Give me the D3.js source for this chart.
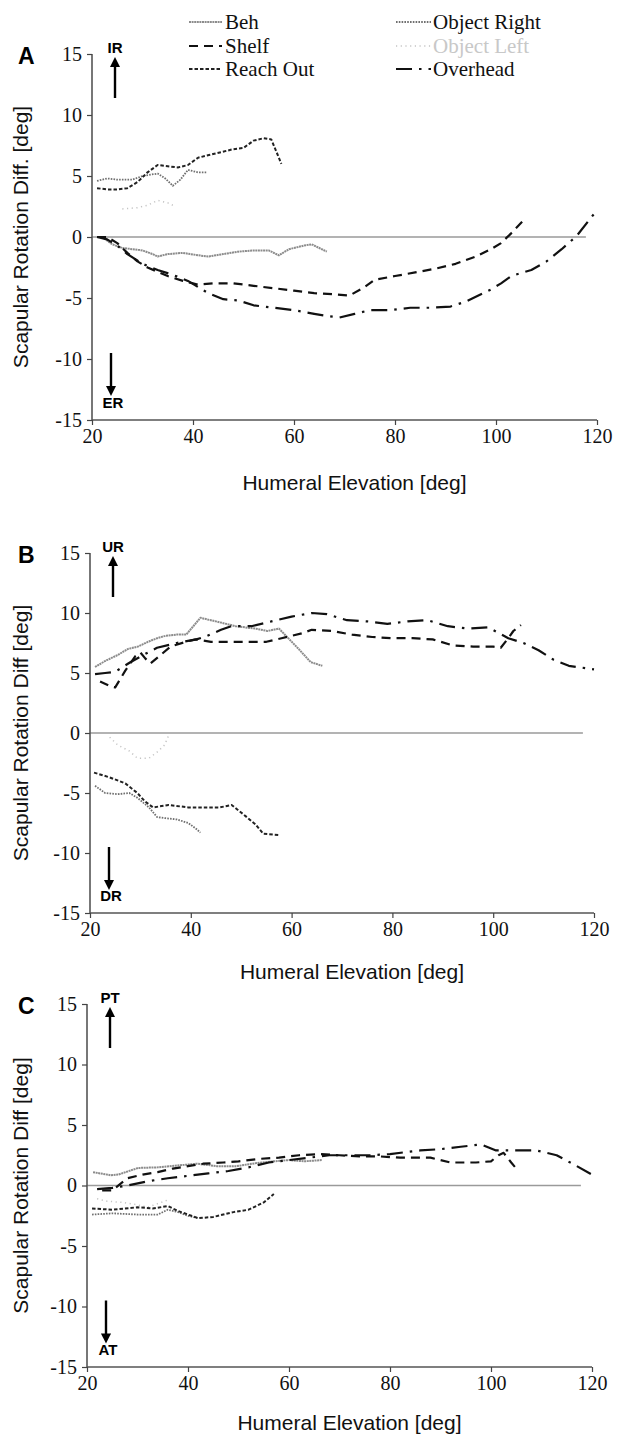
<!DOCTYPE html>
<html>
<head>
<meta charset="utf-8">
<script src="https://cdn.jsdelivr.net/npm/d3@7"></script>
<style>
  html, body { margin: 0; padding: 0; background: #fff; }
  svg { display: block; }
</style>
</head>
<body>
<svg id="chart" width="617" height="1436"></svg>
<script>
// Axis ticks shared by the three panels
const xTicks = [20, 40, 60, 80, 100, 120];
const yTicks = [-15, -10, -5, 0, 5, 10, 15];

// Series names (legend order: left column then right column)
const seriesNames = ["Beh", "Shelf", "Reach Out", "Object Right", "Object Left", "Overhead"];

// Direction labels (positive, negative) for each panel
const labelsA = ["IR", "ER"];
const labelsB = ["UR", "DR"];
const labelsC = ["PT", "AT"];

// ---- Panel A values [humeral elevation, rotation difference] ----
const aBeh = [[22,0.0],[24,-0.6],[26,-0.9],[28,-1.0],[30,-1.1],[32,-1.4],[33,-1.6],[35,-1.4],[38,-1.3],[41,-1.5],[43,-1.6],[46,-1.4],[49,-1.2],[52,-1.1],[55,-1.1],[57,-1.5],[59,-1.0],[62,-0.7],[63.5,-0.6],[65,-0.9],[66.5,-1.2]];
const aObjRight = [[21,4.6],[23,4.8],[25,4.7],[28,4.7],[30,5.0],[33,5.2],[34.5,4.8],[36,4.2],[37.5,4.7],[39,5.5],[41,5.3],[42.7,5.3]];
const aObjLeft = [[26,2.3],[29,2.4],[31,2.6],[33,3.0],[35,2.8],[36,2.6]];
const aReach = [[21,4.0],[23,3.9],[25,3.9],[27,4.0],[29,4.5],[31,5.3],[33,5.9],[35,5.8],[37,5.7],[39,5.9],[41,6.5],[44,6.8],[48,7.2],[50,7.3],[52,7.9],[54,8.1],[55.5,8.0],[56.5,7.0],[57.5,6.0]];
const aShelf = [[21,0],[23,0],[25,-0.5],[27,-1.3],[29,-2.0],[31,-2.5],[35,-3.2],[38,-3.6],[41,-3.9],[44,-3.8],[48,-3.8],[52,-4.0],[56,-4.2],[60,-4.4],[64,-4.6],[68,-4.7],[71,-4.8],[74,-4.1],[76,-3.5],[80,-3.2],[84,-2.9],[88,-2.6],[92,-2.2],[96,-1.6],[99,-1.0],[101,-0.5],[103,0.3],[105.5,1.4]];
const aOverhead = [[21,0],[23,-0.2],[25,-0.7],[27,-1.4],[30,-2.2],[33,-2.7],[36,-3.1],[39,-3.6],[41,-4.1],[43,-4.6],[46,-5.1],[49,-5.2],[52,-5.6],[56,-5.8],[60,-6.0],[64,-6.3],[67,-6.5],[69,-6.6],[72,-6.3],[75,-6.0],[79,-6.0],[83,-5.8],[87,-5.8],[91,-5.7],[94,-5.3],[96,-4.9],[99,-4.3],[101,-3.8],[103,-3.2],[107,-2.7],[110,-2.0],[113,-1.0],[116,0.1],[120,2.2]];

// ---- Panel B values ----
const bBeh = [[21,5.5],[23,6.0],[25.5,6.5],[27.5,7.0],[29.5,7.2],[31.5,7.6],[33.3,7.9],[35,8.1],[37.2,8.2],[39.1,8.2],[41.9,9.6],[45,9.3],[48.9,8.9],[52.8,8.7],[55.2,8.5],[57.5,8.7],[61.4,7.0],[63.8,5.9],[66.1,5.6]];
const bObjRight = [[21,-4.4],[23,-5.0],[25.5,-5.1],[27.8,-5.0],[29.4,-5.4],[31.7,-6.2],[33.3,-7.0],[35,-7.1],[37.2,-7.2],[39.5,-7.5],[41.1,-8.0],[41.9,-8.3]];
const bObjLeft = [[23.9,-0.35],[25.5,-1.0],[27.8,-1.5],[29.4,-2.1],[31.7,-2.1],[33.3,-1.6],[34.8,-1.0],[35.6,-0.2]];
const bReach = [[20.8,-3.3],[23.9,-3.7],[27,-4.2],[29.4,-5.0],[30.9,-5.7],[32.5,-6.2],[35.6,-6.0],[39.5,-6.2],[43.4,-6.2],[45.8,-6.2],[48.1,-6.0],[50.5,-6.8],[52.8,-7.6],[54.4,-8.4],[57.5,-8.5]];
const bShelf = [[22,4.3],[24,3.9],[25,3.8],[27,5.2],[29,6.4],[30,6.7],[31,6.2],[32,5.8],[34,6.5],[36,7.2],[39,7.6],[41,7.8],[44,7.6],[50,7.6],[55,7.6],[58,7.9],[62,8.3],[64,8.6],[68,8.5],[72,8.2],[76,8.0],[80,7.9],[84,7.9],[88,7.8],[92,7.3],[96,7.2],[100,7.2],[101.5,7.1],[103,7.9],[104,8.5],[105.5,9.0]];
const bOverhead = [[21,4.9],[23,5.0],[25,5.1],[28,5.9],[31,6.6],[33.3,7.1],[37.2,7.5],[41.1,7.8],[42.7,8.0],[46,8.6],[48,8.9],[52,8.9],[56,9.3],[60,9.7],[64,10.0],[67,9.9],[71,9.4],[75,9.3],[79,9.1],[83,9.3],[87,9.4],[91,8.9],[95,8.7],[99,8.8],[103,7.9],[106,7.5],[109,6.9],[112,6.1],[115,5.6],[120,5.3]];

// ---- Panel C values ----
const cBeh = [[21.2,1.1],[24.7,0.85],[26.2,0.9],[30.1,1.45],[34,1.5],[37.9,1.65],[41.8,1.8],[45.7,1.6],[49.6,1.6],[53.5,1.85],[57,2.0],[60,2.1],[63,2.0],[66.5,2.1]];
const cObjRight = [[21,-2.4],[25,-2.3],[30,-2.4],[34,-2.4],[36,-2.0],[38,-2.2],[40,-2.5],[42,-2.7]];
const cObjLeft = [[22,-1.1],[24,-1.3],[27,-1.4],[30,-1.6],[32,-1.8],[34,-1.5],[36,-1.2]];
const cReach = [[21,-1.9],[25,-2.0],[30,-1.8],[33,-1.9],[36,-1.7],[38,-2.1],[40,-2.4],[42,-2.7],[45,-2.6],[49,-2.2],[52,-2.0],[55,-1.4],[57,-0.7]];
const cShelf = [[23,-0.4],[25,-0.4],[28,0.6],[31,0.9],[34,1.1],[37,1.4],[40,1.6],[43,1.8],[47,1.9],[50,2.0],[54,2.2],[58,2.3],[62,2.5],[66,2.6],[70,2.5],[74,2.4],[78,2.4],[82,2.3],[88,2.3],[92,1.9],[97,1.9],[100,2.0],[101.5,2.5],[102.5,2.7],[104,1.9],[105,1.4]];
const cOverhead = [[22,-0.3],[25,-0.2],[28,0.0],[32,0.35],[36,0.6],[40,0.8],[44,1.0],[48,1.2],[52,1.5],[56,1.9],[60,2.1],[64,2.3],[68,2.5],[72,2.5],[76,2.5],[80,2.6],[86,2.9],[90,3.0],[94,3.2],[98,3.4],[101,2.9],[105,2.9],[109,2.9],[113,2.5],[117,1.6],[120,0.9]];

// Stroke style for each series
const styles = {
  "Beh":          { stroke: "#8c8c8c", width: 2.0, dash: "2,0.6" },
  "Shelf":        { stroke: "#111",    width: 2.2, dash: "9,6" },
  "Reach Out":    { stroke: "#222",    width: 2.0, dash: "3.5,2" },
  "Object Right": { stroke: "#707070", width: 1.8, dash: "1.6,1.2" },
  "Object Left":  { stroke: "#c4c4c4", width: 1.5, dash: "1.2,3.5" },
  "Overhead":     { stroke: "#111",    width: 2.2, dash: "16,7,2.5,7" }
};

const panels = [
  { letter: "A", x0: 92, x1: 597, yTop: 54, yBot: 420, title: "Scapular Rotation Diff. [deg]",
    up: labelsA[0], down: labelsA[1], xTitleY: 490,
    series: { "Beh": aBeh, "Object Right": aObjRight, "Object Left": aObjLeft, "Reach Out": aReach, "Shelf": aShelf, "Overhead": aOverhead } },
  { letter: "B", x0: 90, x1: 594, yTop: 553, yBot: 913, title: "Scapular Rotation Diff [deg]",
    up: labelsB[0], down: labelsB[1], xTitleY: 979,
    series: { "Beh": bBeh, "Object Right": bObjRight, "Object Left": bObjLeft, "Reach Out": bReach, "Shelf": bShelf, "Overhead": bOverhead } },
  { letter: "C", x0: 87, x1: 592, yTop: 1004, yBot: 1367, title: "Scapular Rotation Diff [deg]",
    up: labelsC[0], down: labelsC[1], xTitleY: 1430,
    series: { "Beh": cBeh, "Object Right": cObjRight, "Object Left": cObjLeft, "Reach Out": cReach, "Shelf": cShelf, "Overhead": cOverhead } }
];

const svg = d3.select("#chart");
const serif = "'Liberation Serif', 'Times New Roman', serif";
const sans = "'Liberation Sans', Arial, sans-serif";

// Arrow head marker
svg.append("defs").append("marker")
  .attr("id", "arrow").attr("viewBox", "0 0 10 10")
  .attr("refX", 5).attr("refY", 5)
  .attr("markerWidth", 4.2).attr("markerHeight", 5)
  .attr("orient", "auto-start-reverse")
  .append("path").attr("d", "M0,0 L10,5 L0,10 Z").attr("fill", "#000");

// plain hyphen-minus tick labels
const tickFmt = d => String(d);

panels.forEach(p => {
  const x = d3.scaleLinear().domain([20, 120]).range([p.x0, p.x1]);
  const y = d3.scaleLinear().domain([-15, 15]).range([p.yBot, p.yTop]);
  const g = svg.append("g");

  // zero reference line
  g.append("line")
    .attr("x1", x(20)).attr("x2", x(117.8))
    .attr("y1", y(0)).attr("y2", y(0))
    .attr("stroke", "#9a9a9a").attr("stroke-width", 1.6);

  // axes
  const xAxis = d3.axisBottom(x).tickValues(xTicks).tickSize(5).tickPadding(4).tickFormat(tickFmt);
  const yAxis = d3.axisLeft(y).tickValues(yTicks).tickSize(5).tickPadding(5).tickFormat(tickFmt);

  const gx = g.append("g").attr("transform", `translate(0,${y(-15)})`).call(xAxis);
  const gy = g.append("g").attr("transform", `translate(${x(20)},0)`).call(yAxis);
  [gx, gy].forEach(a => {
    a.select(".domain").attr("stroke", "#555").attr("stroke-width", 1.6);
    a.selectAll(".tick line").attr("stroke", "#444").attr("stroke-width", 1.2);
    a.selectAll(".tick text").attr("fill", "#111").style("font-family", serif).style("font-size", "20px");
  });
  gx.select(".domain").attr("d", `M${x(20)},0H${x(120)}`);
  gy.select(".domain").attr("d", `M0,${y(-15)}V${y(15)}`);

  // series lines
  const line = d3.line().x(d => x(d[0])).y(d => y(d[1])).curve(d3.curveLinear);
  Object.entries(p.series).forEach(([name, data]) => {
    const s = styles[name];
    g.append("path").datum(data)
      .attr("d", line)
      .attr("fill", "none")
      .attr("stroke", s.stroke)
      .attr("stroke-width", s.width)
      .attr("stroke-dasharray", s.dash)
      .attr("stroke-linejoin", "round");
  });

  // panel letter
  g.append("text").attr("x", 18).attr("y", y(15) + 10)
    .style("font-family", sans).style("font-weight", "bold").style("font-size", "23px")
    .attr("fill", "#000").text(p.letter);

  // direction labels and arrows
  const ax = x(20) + 23;
  g.append("text").attr("x", ax).attr("y", y(15) - 1).attr("text-anchor", "middle")
    .style("font-family", sans).style("font-weight", "bold").style("font-size", "15px").text(p.up);
  g.append("line").attr("x1", ax).attr("x2", ax)
    .attr("y1", y(15) + 44).attr("y2", y(15) + 8)
    .attr("stroke", "#000").attr("stroke-width", 2.4).attr("marker-end", "url(#arrow)");
  g.append("text").attr("x", ax - 2).attr("y", y(-15) - 12).attr("text-anchor", "middle")
    .style("font-family", sans).style("font-weight", "bold").style("font-size", "15px").text(p.down);
  g.append("line").attr("x1", ax - 4).attr("x2", ax - 4)
    .attr("y1", y(-10) - 6).attr("y2", y(-10) + 32)
    .attr("stroke", "#000").attr("stroke-width", 2.4).attr("marker-end", "url(#arrow)");

  // axis titles
  g.append("text").attr("x", (x(20) + x(120)) / 2 + 10).attr("y", p.xTitleY)
    .attr("text-anchor", "middle")
    .style("font-family", sans).style("font-size", "21px").attr("fill", "#111")
    .text("Humeral Elevation [deg]");
  g.append("text")
    .attr("transform", `translate(28,${y(0)}) rotate(-90)`)
    .attr("text-anchor", "middle")
    .style("font-family", sans).style("font-size", "21px").attr("fill", "#111")
    .text(p.title);
});

// legend
const legendPos = [
  { col: 0, row: 0 }, { col: 0, row: 1 }, { col: 0, row: 2 },
  { col: 1, row: 0 }, { col: 1, row: 1 }, { col: 1, row: 2 }
];
const colX = [[189, 222, 225], [396, 431, 433]];
const rowY = [22, 46, 69];
const lg = svg.append("g");
seriesNames.forEach((name, i) => {
  const pos = legendPos[i];
  const s = styles[name];
  const [sx0, sx1, tx] = colX[pos.col];
  const yy = rowY[pos.row];
  lg.append("line").attr("x1", sx0).attr("x2", sx1).attr("y1", yy).attr("y2", yy)
    .attr("stroke", s.stroke).attr("stroke-width", s.width).attr("stroke-dasharray", s.dash);
  lg.append("text").attr("x", tx).attr("y", yy + 7)
    .style("font-family", serif).style("font-size", "21px")
    .attr("fill", name === "Object Left" ? "#c8c8c8" : "#111")
    .text(name);
});
</script>
</body>
</html>
